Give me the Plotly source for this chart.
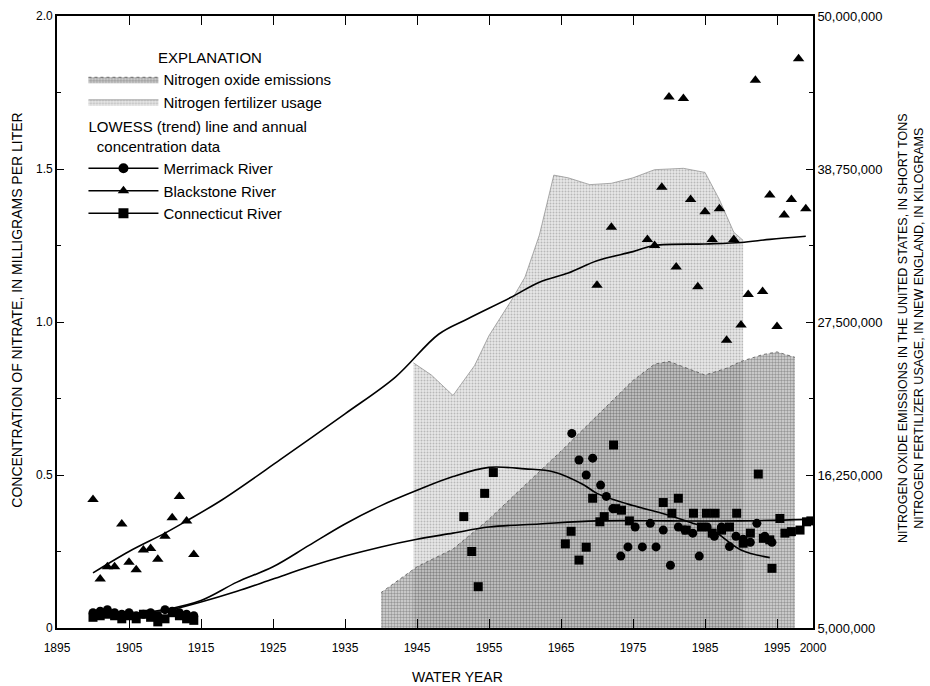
import plotly.graph_objects as go

# ---------------- data ----------------
# Nitrogen oxide emissions, United States (short tons)
nox_years = [1940, 1945, 1950, 1955, 1960, 1965, 1970, 1975, 1978, 1980, 1983, 1985, 1988, 1990, 1993, 1995, 1997.5]
nox_tons = [7.6e6, 9.5e6, 10.8e6, 13.0e6, 15.5e6, 18.0e6, 20.6e6, 23.2e6, 24.4e6, 24.6e6, 24.0e6, 23.6e6, 24.1e6,
            24.6e6, 25.1e6, 25.3e6, 24.9e6]

# Nitrogen fertilizer usage, New England (kilograms)
fert_years = [1944.5, 1947, 1950, 1953, 1955, 1958, 1960, 1962, 1964, 1966, 1969, 1972, 1975, 1978, 1982, 1985,
              1987, 1989, 1990.3]
fert_kg = [24.5e6, 23.6e6, 22.1e6, 24.3e6, 26.5e6, 29.0e6, 30.8e6, 33.9e6, 38.3e6, 38.1e6, 37.6e6, 37.7e6, 38.1e6,
           38.7e6, 38.8e6, 38.5e6, 36.5e6, 34.1e6, 33.5e6]

# LOWESS trend lines (mg/L)
bl_trend_years = [1900, 1905, 1910, 1913, 1918, 1926, 1935, 1942, 1948, 1952, 1958, 1962, 1966, 1970, 1975, 1978,
                  1985, 1990, 1994, 1999]
bl_trend = [0.18, 0.25, 0.31, 0.35, 0.42, 0.55, 0.70, 0.82, 0.96, 1.01, 1.08, 1.13, 1.16, 1.20, 1.23, 1.25, 1.255,
            1.26, 1.27, 1.28]

me_trend_years = [1900, 1905, 1910, 1915, 1920, 1925, 1930, 1935, 1940, 1945, 1950, 1955, 1960, 1964, 1968, 1970,
                  1975, 1979, 1983, 1986, 1990, 1994]
me_trend = [0.04, 0.045, 0.06, 0.09, 0.15, 0.20, 0.27, 0.34, 0.40, 0.45, 0.495, 0.525, 0.52, 0.51, 0.47, 0.44,
            0.40, 0.375, 0.345, 0.32, 0.255, 0.23]

ct_trend_years = [1900, 1905, 1910, 1915, 1920, 1925, 1930, 1935, 1940, 1945, 1950, 1955, 1962, 1970, 1980, 1990,
                  1999.5]
ct_trend = [0.035, 0.04, 0.055, 0.085, 0.12, 0.16, 0.20, 0.235, 0.265, 0.29, 0.31, 0.33, 0.34, 0.35, 0.35, 0.35,
            0.355]

# Annual concentration data (mg/L)
bl_years = [1900, 1901, 1902, 1903, 1904, 1905, 1906, 1907, 1908, 1909, 1910, 1911, 1912, 1913, 1914,
            1970, 1972, 1977, 1978, 1979, 1980, 1981, 1982, 1983, 1984, 1985, 1986, 1987, 1988, 1989, 1990,
            1991, 1992, 1993, 1994, 1995, 1996, 1997, 1998, 1999]
bl_conc = [0.42, 0.16, 0.20, 0.20, 0.34, 0.215, 0.19, 0.255, 0.26, 0.225, 0.30, 0.36, 0.43, 0.35, 0.24,
           1.12, 1.31, 1.27, 1.25, 1.44, 1.735, 1.18, 1.73, 1.40, 1.115, 1.36, 1.27, 1.37, 0.94, 1.27, 0.99,
           1.09, 1.79, 1.10, 1.415, 0.985, 1.35, 1.40, 1.86, 1.37]

me_years = [1900, 1901, 1902, 1903, 1904, 1905, 1906, 1907, 1908, 1909, 1910, 1911, 1912, 1913, 1914,
            1966.5, 1967.5, 1968.5, 1969.4, 1970.5, 1971.3, 1972.2, 1973.3, 1974.3, 1975.3, 1976.3, 1977.4,
            1978.2, 1979.2, 1980.2, 1981.3, 1982.2, 1983.3, 1984.2, 1985.3, 1986.3, 1987.3, 1988.4, 1989.3,
            1990.3, 1991.3, 1992.2, 1993.3, 1994.3]
me_conc = [0.05, 0.055, 0.06, 0.05, 0.045, 0.05, 0.04, 0.045, 0.05, 0.04, 0.06, 0.055, 0.05, 0.045, 0.04,
           0.636, 0.549, 0.50, 0.555, 0.467, 0.43, 0.39, 0.235, 0.265, 0.33, 0.265, 0.342,
           0.265, 0.32, 0.205, 0.33, 0.32, 0.31, 0.235, 0.33, 0.30, 0.33, 0.266, 0.30,
           0.29, 0.28, 0.342, 0.30, 0.28]

ct_years = [1900, 1901, 1902, 1903, 1904, 1905, 1906, 1907, 1908, 1909, 1910, 1911, 1912, 1913, 1914,
            1951.5, 1952.6, 1953.5, 1954.4, 1955.6, 1965.6, 1966.4, 1967.5, 1968.5, 1969.4, 1970.4, 1971.0,
            1972.3, 1972.6, 1973.4, 1974.5, 1979.2, 1980.4, 1981.3, 1982.4, 1983.4, 1984.5, 1985.2, 1986.4,
            1986.0, 1987.3, 1988.4, 1989.4, 1990.3, 1991.3, 1992.4, 1993.1, 1994.0, 1994.3, 1995.4, 1996.1,
            1997.0, 1998.2, 1999.1, 1999.7]
ct_conc = [0.035, 0.04, 0.045, 0.04, 0.03, 0.04, 0.03, 0.045, 0.035, 0.02, 0.03, 0.05, 0.04, 0.03, 0.025,
           0.364, 0.25, 0.135, 0.44, 0.508, 0.275, 0.316, 0.222, 0.264, 0.424, 0.347, 0.364,
           0.598, 0.39, 0.385, 0.35, 0.41, 0.375, 0.424, 0.32, 0.375, 0.33, 0.375, 0.375,
           0.31, 0.32, 0.33, 0.375, 0.277, 0.31, 0.503, 0.293, 0.288, 0.195, 0.358, 0.31,
           0.315, 0.32, 0.347, 0.35]

x_tickvals = [1895, 1905, 1915, 1925, 1935, 1945, 1955, 1965, 1975, 1985, 1995, 2000]
conc_tickvals = [0, 0.5, 1.0, 1.5, 2.0]
conc_ticktext = ["0", "0.5", "1.0", "1.5", "2.0"]
right_tickvals = [5000000, 16250000, 27500000, 38750000, 50000000]
right_ticktext = ["5,000,000", "16,250,000", "27,500,000", "38,750,000", "50,000,000"]

FONT = "Liberation Sans, Arial, sans-serif"

fig = go.Figure()

# shaded areas on the right-hand axis (primary y, drawn underneath)
fig.add_trace(go.Scatter(
    x=fert_years, y=fert_kg, mode="lines", line=dict(width=0.6, color="#777777"),
    fill="tozeroy", fillcolor="rgba(190,190,190,0.55)",
    fillpattern=dict(shape=".", size=3, solidity=0.35, fgcolor="#8a8a8a", bgcolor="rgba(215,215,215,0.6)"),
    name="Nitrogen fertilizer usage", legendgroup="a", legendrank=2, yaxis="y", hoverinfo="skip"))
fig.add_trace(go.Scatter(
    x=nox_years, y=nox_tons, mode="lines", line=dict(width=0.8, color="#555555", dash="dot"),
    fill="tozeroy", fillcolor="rgba(130,130,130,0.45)",
    fillpattern=dict(shape=".", size=3, solidity=0.5, fgcolor="#555555", bgcolor="rgba(170,170,170,0.45)"),
    name="Nitrogen oxide emissions", legendgroup="a", legendrank=1, yaxis="y", hoverinfo="skip"))

# LOWESS trend lines on concentration axis
for xs, ys in [(bl_trend_years, bl_trend), (me_trend_years, me_trend), (ct_trend_years, ct_trend)]:
    fig.add_trace(go.Scatter(x=xs, y=ys, mode="lines", line=dict(color="black", width=1.6, shape="spline"),
                             showlegend=False, yaxis="y2"))

# annual concentration data
fig.add_trace(go.Scatter(x=me_years, y=me_conc, mode="markers", yaxis="y2", showlegend=False,
                         marker=dict(symbol="circle", size=9, color="black")))
fig.add_trace(go.Scatter(x=bl_years, y=bl_conc, mode="markers", yaxis="y2", showlegend=False,
                         marker=dict(symbol="triangle-up", size=10, color="black")))
fig.add_trace(go.Scatter(x=ct_years, y=ct_conc, mode="markers", yaxis="y2", showlegend=False,
                         marker=dict(symbol="square", size=9, color="black")))

# legend-only entries (line + marker) for the rivers
grp_title = dict(text="LOWESS (trend) line and annual<br>  concentration data",
                 font=dict(family=FONT, size=15, color="black"))
for nm, sym, rk in [("Merrimack River", "circle", 3), ("Blackstone River", "triangle-up", 4),
                    ("Connecticut River", "square", 5)]:
    fig.add_trace(go.Scatter(x=[None], y=[None], mode="lines+markers", name=nm, yaxis="y2",
                             line=dict(color="black", width=1.6),
                             marker=dict(symbol=sym, size=10, color="black"),
                             legendgroup="b", legendgrouptitle=grp_title, legendrank=rk))

fig.update_layout(
    width=930, height=686,
    margin=dict(l=57, r=117, t=16, b=58, autoexpand=False),
    paper_bgcolor="white", plot_bgcolor="white",
    font=dict(family=FONT, size=12, color="black"),
    showlegend=True,
    legend=dict(x=0.035, y=0.955, xanchor="left", yanchor="top", bgcolor="rgba(0,0,0,0)",
                title=dict(text="EXPLANATION", side="top center", font=dict(family=FONT, size=15, color="black")),
                font=dict(family=FONT, size=15, color="black"), traceorder="grouped", tracegroupgap=2,
                itemwidth=70),
    xaxis=dict(range=[1895, 2000], tickvals=x_tickvals, ticktext=[str(v) for v in x_tickvals],
               ticks="inside", ticklen=9, tickwidth=1.2, tickcolor="black", ticklabelstandoff=8,
               showline=True, linecolor="black", linewidth=1.6, mirror="ticks", automargin=False,
               showgrid=False, zeroline=False, tickfont=dict(size=12), anchor="y"),
    yaxis=dict(side="right", range=[5000000, 50000000], tickvals=right_tickvals, ticktext=right_ticktext,
               ticks="inside", ticklen=7, tickwidth=1.2, tickcolor="black", automargin=False,
               minor=dict(dtick=5625000, tick0=5000000, ticks="inside", ticklen=4, tickcolor="black"),
               showline=True, linecolor="black", linewidth=1.6, showgrid=False, zeroline=False,
               tickfont=dict(size=13), anchor="x"),
    yaxis2=dict(side="left", overlaying="y", range=[0, 2.0], tickvals=conc_tickvals, ticktext=conc_ticktext,
                ticks="inside", ticklen=7, tickwidth=1.2, tickcolor="black", automargin=False,
                minor=dict(dtick=0.25, tick0=0, ticks="inside", ticklen=4, tickcolor="black"),
                showline=True, linecolor="black", linewidth=1.6, showgrid=False, zeroline=False,
                tickfont=dict(size=12), anchor="x"),
    annotations=[
        dict(text="WATER YEAR", xref="paper", yref="paper", x=0.53, y=-0.08, showarrow=False,
             xanchor="center", yanchor="middle", font=dict(size=14)),
        dict(text="CONCENTRATION OF NITRATE, IN MILLIGRAMS PER LITER", xref="paper", yref="paper",
             x=-0.053, y=0.52, textangle=-90, showarrow=False, xanchor="center", yanchor="middle",
             font=dict(size=14)),
        dict(text="NITROGEN OXIDE EMISSIONS IN THE UNITED STATES, IN SHORT TONS<br>"
                   "NITROGEN FERTILIZER USAGE, IN NEW ENGLAND, IN KILOGRAMS",
             xref="paper", yref="paper", x=1.1296, y=0.49, textangle=-90, showarrow=False,
             xanchor="center", yanchor="middle", font=dict(size=12.5)),
    ],
)

# remove the browser's default 8 px page margin so the 930x686 figure fills the window exactly
fig.write_html("out.html",
               config={"displayModeBar": False},
               post_script="document.body.style.margin='0px';"
                           "document.documentElement.style.overflow='hidden';")
